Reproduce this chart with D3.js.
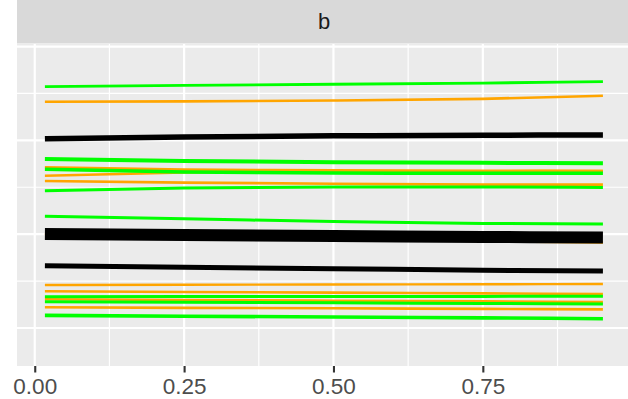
<!DOCTYPE html>
<html>
<head>
<meta charset="utf-8">
<script src="https://cdn.jsdelivr.net/npm/d3@7"></script>
<style>
  html, body { margin: 0; padding: 0; background: #ffffff; }
  svg { display: block; }
</style>
</head>
<body>
<svg id="chart" width="628" height="399"></svg>
<script>
// ---------------- data ----------------
const facetLabel = "b";
const xPositions = [0.017, 0.25, 0.5, 0.75, 0.951];
const xTickValues = [0, 0.25, 0.5, 0.75];
const xTickLabels = ["0.00", "0.25", "0.50", "0.75"];
const groupNames = ["A", "B", "C"];
const groupColours = ["#00FF00", "#FFA500", "#000000"];

// series (drawn in this order)
const seriesNames = ["o1","o2","o3","o4","o5","o6","o7","o8","o9",
                     "g1","g2","g3","g4","g5","g6","g7","g8",
                     "k1","k2","k3"];
const seriesGroup = ["B","B","B","B","B","B","B","B","B",
                     "A","A","A","A","A","A","A","A",
                     "C","C","C"];
const seriesWeight = [2.6,2.6,2.6,2.6,2.6,2.4,2.6,2.6,2.6,
                      2.8,4.0,3.5,3.0,3.0,3.0,3.0,3.6,
                      5.5,12,5.0];
const seriesValues = [
  [24.12, 24.15, 24.24, 24.42, 24.76],
  [17.13, 16.88, 16.80, 16.76, 16.73],
  [16.23, 16.57, 16.68, 16.71, 16.73],
  [15.67, 15.50, 15.37, 15.28, 15.28],
  [10.02,  9.75,  9.48,  9.27,  9.11],
  [ 4.58,  4.61,  4.64,  4.66,  4.69],
  [ 3.91,  3.84,  3.77,  3.69,  3.62],
  [ 3.06,  2.99,  2.91,  2.84,  2.77],
  [ 2.21,  2.15,  2.10,  2.04,  1.99],
  [25.72, 25.85, 25.98, 26.11, 26.25],
  [18.01, 17.80, 17.67, 17.60, 17.55],
  [16.91, 16.63, 16.52, 16.49, 16.49],
  [14.63, 14.92, 15.03, 15.03, 14.97],
  [11.90, 11.64, 11.35, 11.14, 11.08],
  [ 3.34,  3.35,  3.36,  3.37,  3.38],
  [ 2.80,  2.74,  2.68,  2.62,  2.56],
  [ 1.35,  1.26,  1.17,  1.08,  0.99],
  [20.17, 20.35, 20.48, 20.55, 20.57],
  [10.02,  9.91,  9.81,  9.70,  9.65],
  [ 6.64,  6.48,  6.32,  6.16,  6.07]
];
const yMajor = [0, 10, 20, 30];
const yMinor = [5, 15, 25];
const xMinor = [0.125, 0.375, 0.625, 0.875];

// ---------------- layout ----------------
const svg = d3.select("#chart");
const panel = { left: 17, right: 631, top: 44, bottom: 366 };
const stripTop = 0, stripBottom = 43.5;

const x = d3.scaleLinear().domain([-0.0297, 0.998]).range([panel.left, panel.right]);
const y = d3.scaleLinear().domain([-4.05, 30.27]).range([panel.bottom, panel.top]);
const colour = d3.scaleOrdinal().domain(groupNames).range(groupColours);
const width = d3.scaleLinear().domain([0, 12]).range([0, 12]);

// strip
svg.append("rect")
  .attr("x", panel.left).attr("y", stripTop)
  .attr("width", panel.right - panel.left).attr("height", stripBottom - stripTop)
  .attr("fill", "#D9D9D9");
svg.append("text")
  .attr("x", (panel.left + panel.right) / 2).attr("y", 29)
  .attr("text-anchor", "middle")
  .attr("font-family", "Liberation Sans, Arial, sans-serif")
  .attr("font-size", 22).attr("fill", "#1A1A1A")
  .text(facetLabel);

// panel background
svg.append("rect")
  .attr("x", panel.left).attr("y", panel.top)
  .attr("width", panel.right - panel.left).attr("height", panel.bottom - panel.top)
  .attr("fill", "#EBEBEB");

const grid = svg.append("g");
grid.selectAll("line.ymin").data(yMinor).join("line")
  .attr("x1", panel.left).attr("x2", panel.right)
  .attr("y1", d => y(d)).attr("y2", d => y(d))
  .attr("stroke", "#FFFFFF").attr("stroke-width", 1.2);
grid.selectAll("line.xmin").data(xMinor).join("line")
  .attr("y1", panel.top).attr("y2", panel.bottom)
  .attr("x1", d => x(d)).attr("x2", d => x(d))
  .attr("stroke", "#FFFFFF").attr("stroke-width", 1.2);
grid.selectAll("line.ymaj").data(yMajor).join("line")
  .attr("x1", panel.left).attr("x2", panel.right)
  .attr("y1", d => y(d)).attr("y2", d => y(d))
  .attr("stroke", "#FFFFFF").attr("stroke-width", 2.2);
grid.selectAll("line.xmaj").data(xTickValues).join("line")
  .attr("y1", panel.top).attr("y2", panel.bottom)
  .attr("x1", d => x(d)).attr("x2", d => x(d))
  .attr("stroke", "#FFFFFF").attr("stroke-width", 2.2);

// lines
const series = seriesNames.map((n, i) => ({
  name: n, group: seriesGroup[i], weight: seriesWeight[i],
  points: xPositions.map((xv, j) => [xv, seriesValues[i][j]])
}));
const lineGen = d3.line().x(d => x(d[0])).y(d => y(d[1])).curve(d3.curveMonotoneX);
svg.append("g").selectAll("path").data(series).join("path")
  .attr("d", d => lineGen(d.points))
  .attr("fill", "none")
  .attr("stroke", d => colour(d.group))
  .attr("stroke-width", d => width(d.weight))
  .attr("stroke-linecap", "butt")
  .attr("stroke-linejoin", "round");

// x axis
const xAxis = d3.axisBottom(x)
  .tickValues(xTickValues)
  .tickFormat((d, i) => xTickLabels[i])
  .tickSize(6.5).tickPadding(6);
const ax = svg.append("g").attr("transform", `translate(0,${panel.bottom})`).call(xAxis);
ax.select(".domain").remove();
ax.selectAll(".tick line").attr("stroke", "#333333").attr("stroke-width", 2.1);
ax.selectAll(".tick text")
  .attr("fill", "#4D4D4D")
  .attr("font-family", "Liberation Sans, Arial, sans-serif")
  .attr("font-size", 22.5);
</script>
</body>
</html>
